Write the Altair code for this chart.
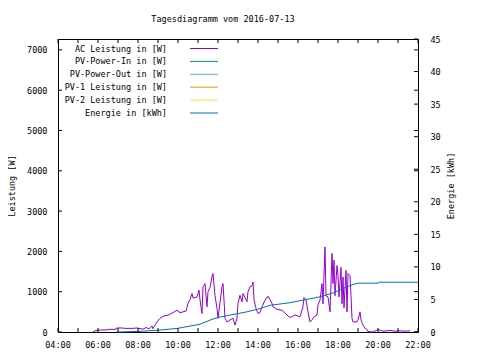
import altair as alt
import pandas as pd

# ---------------- data ----------------
ac_time = ["05:45", "05:51", "06:06", "06:21", "06:36", "06:51", "06:57", "07:12", "07:21", "07:45",
           "07:57", "08:15", "08:24", "08:33", "08:42", "08:45", "08:51", "08:57", "09:06", "09:15",
           "09:30", "09:45", "09:57", "10:06", "10:15", "10:24", "10:30", "10:36", "10:42", "10:45",
           "10:57", "11:03", "11:06", "11:12", "11:15", "11:21", "11:27", "11:30", "11:36", "11:42",
           "11:45", "11:51", "11:57", "12:00", "12:12", "12:15", "12:18", "12:21", "12:27", "12:36",
           "12:45", "12:51", "12:57", "13:00", "13:06", "13:12", "13:15", "13:21", "13:27", "13:30",
           "13:36", "13:42", "13:45", "13:48", "13:54", "14:00", "14:06", "14:12", "14:21", "14:30",
           "14:42", "14:45", "14:57", "15:12", "15:27", "15:36", "15:51", "16:06", "16:15", "16:18",
           "16:24", "16:30", "16:36", "16:42", "16:48", "16:57", "17:00", "17:06", "17:12", "17:15",
           "17:21", "17:24", "17:30", "17:36", "17:42", "17:45", "17:48", "17:51", "17:57", "18:00",
           "18:03", "18:09", "18:12", "18:15", "18:18", "18:24", "18:27", "18:30", "18:36", "18:39",
           "18:42", "18:45", "18:57", "19:00", "19:06", "19:09", "19:15", "19:21", "19:27", "19:30",
           "19:45", "19:57", "20:06", "20:15", "20:27", "20:36", "20:51", "21:06", "21:21", "21:36"]
ac_watt = [0, 30, 50, 50, 65, 65, 100, 100, 90, 90,
           100, 70, 110, 80, 150, 80, 170, 250, 340, 390,
           420, 480, 540, 480, 500, 520, 710, 800, 955, 840,
           870, 1040, 800, 460, 1120, 1200, 625, 1000, 1100, 1365,
           1450, 900, 585, 340, 1120, 1200, 790, 340, 250, 300,
           340, 170, 340, 710, 910, 750, 955, 850, 750, 1000,
           1120, 1150, 1240, 800, 585, 460, 480, 625, 790, 890,
           710, 625, 560, 540, 420, 360, 420, 380, 625, 855,
           800, 500, 250, 300, 380, 420, 670, 790, 1200, 700,
           2110, 900, 870, 500, 1950, 1200, 1780, 900, 1650, 1400,
           870, 1600, 700, 1365, 600, 1530, 500, 1450, 1400, 900,
           340, 250, 250, 300, 500, 300, 170, 90, 60, 10,
           0, 50, 50, 20, 30, 40, 20, 30, 20, 30]

en_time = ["06:57", "08:06", "09:06", "09:57", "10:36", "11:06", "11:45", "12:06", "12:36", "13:27",
           "14:06", "14:36", "15:06", "15:36", "16:15", "17:06", "17:45", "18:21", "18:45", "19:00",
           "20:00", "20:03", "22:00"]
en_kwh = [0.0, 0.1, 0.3, 0.55, 0.9, 1.2, 2.0, 2.3, 2.6, 3.1,
          3.6, 4.1, 4.3, 4.5, 4.9, 5.4, 6.0, 6.8, 7.3, 7.5,
          7.5, 7.65, 7.65]

legend_names = ["AC Leistung in [W]", "PV-Power-In in [W]", "PV-Power-Out in [W]",
                "PV-1 Leistung in [W]", "PV-2 Leistung in [W]", "Energie in [kWh]"]
legend_colors = ["#9400D3", "#009E73", "#56B4E9", "#E69F00", "#F0E442", "#0072B2"]

x_label_times = ["04:00", "06:00", "08:00", "10:00", "12:00", "14:00", "16:00", "18:00",
                 "20:00", "22:00"]
x_tick_hours = list(range(4, 23))
p_ticks = [0, 1000, 2000, 3000, 4000, 5000, 6000, 7000]
e_ticks = [0, 5, 10, 15, 20, 25, 30, 35, 40, 45]

title_text = "Tagesdiagramm vom 2016-07-13"
y_title = "Leistung [W]"
y2_title = "Energie [kWh]"


def hours(s):
    hh, mm = s.split(":")
    return int(hh) + int(mm) / 60.0


FONT = "DejaVu Sans Mono"
FS = 8.5
W, H = 360, 293
TL = 4

xs = alt.Scale(domain=[4, 22], nice=False, zero=False)
ps = alt.Scale(domain=[0, 7270], nice=False)
es = alt.Scale(domain=[0, 45], nice=False)

ac = pd.DataFrame({"t": [hours(s) for s in ac_time], "p": ac_watt})
en = pd.DataFrame({"t": [hours(s) for s in en_time], "e": en_kwh})
leg = pd.DataFrame({"name": legend_names, "color": legend_colors})
xt = pd.DataFrame({"t": x_tick_hours})
xl = pd.DataFrame({"t": [hours(s) for s in x_label_times], "lab": x_label_times})
pt = pd.DataFrame({"v": p_ticks})
et = pd.DataFrame({"v": e_ticks})

power = alt.Chart(ac).mark_line(color="#9400D3", strokeWidth=1).encode(
    x=alt.X("t:Q", scale=xs, axis=None),
    y=alt.Y("p:Q", scale=ps,
            axis=alt.Axis(values=p_ticks, format="d", ticks=False, tickSize=0, domain=False,
                          grid=False, labelPadding=11, title=y_title, titlePadding=10,
                          labelOverlap=False)),
)

energy = alt.Chart(en).mark_line(color="#0072B2", strokeWidth=1).encode(
    x=alt.X("t:Q", scale=xs, axis=None),
    y=alt.Y("e:Q", scale=es,
            axis=alt.Axis(orient="right", values=e_ticks, format="d", ticks=False, tickSize=0,
                          domain=False, grid=False, labelPadding=12, title=y2_title,
                          titleAngle=270, titlePadding=15, labelOverlap=False)),
)

# x tick labels below the frame (gnuplot style), positioned by the x scale
xlab = alt.Chart(xl).mark_text(align="center", baseline="top", font=FONT, fontSize=FS,
                               color="black", dy=0).encode(
    x=alt.X("t:Q", scale=xs, axis=None), y=alt.value(H + 9), text="lab:N")

xb = alt.Chart(xt).mark_rule(color="black", strokeWidth=1).encode(
    x=alt.X("t:Q", scale=xs, axis=None), y=alt.value(H), y2=alt.value(H - TL))
xtp = alt.Chart(xt).mark_rule(color="black", strokeWidth=1).encode(
    x=alt.X("t:Q", scale=xs, axis=None), y=alt.value(0), y2=alt.value(TL))
pl = alt.Chart(pt).mark_rule(color="black", strokeWidth=1).encode(
    y=alt.Y("v:Q", scale=ps, axis=None), x=alt.value(0), x2=alt.value(TL))
pr = alt.Chart(pt).mark_rule(color="black", strokeWidth=1).encode(
    y=alt.Y("v:Q", scale=ps, axis=None), x=alt.value(W), x2=alt.value(W - TL))
er = alt.Chart(et).mark_rule(color="black", strokeWidth=1).encode(
    y=alt.Y("v:Q", scale=es, axis=None), x=alt.value(W), x2=alt.value(W - TL))

leg_y = alt.Y("name:N", sort=legend_names,
              scale=alt.Scale(type="point", range=[9.5, 74], padding=0), axis=None)
leg_text = alt.Chart(leg).mark_text(align="right", baseline="middle", font=FONT,
                                    fontSize=FS, color="black").encode(
    x=alt.value(109), y=leg_y, text="name:N")
leg_rule = alt.Chart(leg).mark_rule(strokeWidth=1).encode(
    x=alt.value(132), x2=alt.value(160), y=leg_y, color=alt.Color("color:N", scale=None))

chart = alt.layer(power, energy, xb, xtp, pl, pr, er, xlab, leg_text, leg_rule).resolve_scale(
    y="independent"
).properties(
    width=W, height=H,
    autosize=alt.AutoSizeParams(type="none"),
    padding={"left": 50, "top": 31, "right": 54, "bottom": 20},
    background="white",
    title=alt.TitleParams(title_text, font=FONT, fontSize=FS, fontWeight="normal",
                          color="black", anchor="middle", dx=-15, offset=12),
).configure_view(
    stroke="black", strokeWidth=1
).configure_axis(
    labelFont=FONT, labelFontSize=FS, labelColor="black",
    titleFont=FONT, titleFontSize=FS, titleFontWeight="normal", titleColor="black",
)

chart.save("out.html", embed_options={"renderer": "svg", "actions": False})
